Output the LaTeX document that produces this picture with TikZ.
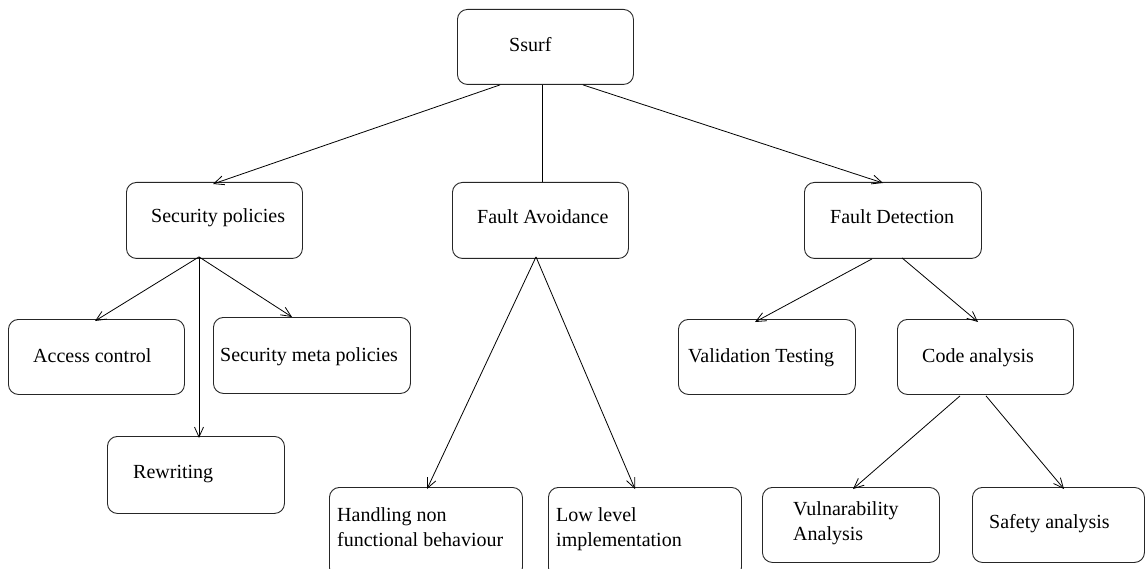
\documentclass[tikz,border=0pt]{standalone}
\usepackage{fontspec}
\setmainfont{Liberation Serif}
\usetikzlibrary{arrows.meta}
\begin{document}
\begin{tikzpicture}[x=1pt,y=-1pt,
  box/.style={draw=black!85, line width=0.9pt, rounded corners=10pt, anchor=north west, inner sep=0pt},
  lbl/.style={anchor=base west, inner sep=0pt, font=\fontsize{20}{25}\selectfont, align=left},
  arr/.style={draw, line width=0.8pt, -{Straight Barb[length=10pt,width=9pt,line width=0.8pt]}},
  ln/.style={draw, line width=0.8pt}]
\useasboundingbox (0,0) rectangle (1145,569);
% boxes
\node[box, minimum width=176pt, minimum height=75pt] (ssurf) at (457,9) {};
\node[box, minimum width=176pt, minimum height=76pt] (sp) at (126,182) {};
\node[box, minimum width=176pt, minimum height=76pt] (fa) at (452,182) {};
\node[box, minimum width=177pt, minimum height=76pt] (fd) at (804,182) {};
\node[box, minimum width=176pt, minimum height=75pt] (ac) at (8,319) {};
\node[box, minimum width=197pt, minimum height=76pt] (smp) at (213,317) {};
\node[box, minimum width=177pt, minimum height=77pt] (rw) at (107,436) {};
\node[box, minimum width=177pt, minimum height=75pt] (vt) at (678,319) {};
\node[box, minimum width=176pt, minimum height=75pt] (ca) at (897,319) {};
\node[box, minimum width=193pt, minimum height=90pt] (hn) at (329,487) {};
\node[box, minimum width=193pt, minimum height=90pt] (ll) at (548,487) {};
\node[box, minimum width=177pt, minimum height=75pt] (va) at (762,487) {};
\node[box, minimum width=172pt, minimum height=75pt] (sa) at (972,487) {};
% labels
\node[lbl] (ssurf-t) at (509,52) {Ssurf};
\node[lbl] (sp-t) at (151,223) {Security policies};
\node[lbl] (fa-t) at (477,224) {Fault Avoidance};
\node[lbl] (fd-t) at (830,224) {Fault Detection};
\node[lbl] (ac-t) at (33,362) {Access control};
\node[lbl] (smp-t) at (220,361) {Security meta policies};
\node[lbl] (rw-t) at (133,478) {Rewriting};
\node[lbl] (vt-t) at (688,362) {Validation Testing};
\node[lbl] (ca-t) at (922,362) {Code analysis};
\node[lbl] (hn-t) at (337,546) {Handling non\\functional behaviour};
\node[lbl] (ll-t) at (556,546) {Low level\\implementation};
\node[lbl] (va-t) at (793,540) {Vulnarability\\Analysis};
\node[lbl] (sa-t) at (989,528) {Safety analysis};
% connectors
\draw[arr] ([xshift=43pt]ssurf.south west) -- ([xshift=87pt,yshift=-2pt]sp.north west);
\draw[ln] ([xshift=85pt]ssurf.south west) -- ([xshift=90pt]fa.north west);
\draw[arr] ([xshift=126pt]ssurf.south west) -- ([xshift=79pt,yshift=-1pt]fd.north west);
\draw[arr] ([xshift=73pt,yshift=2pt]sp.south west) -- ([xshift=87pt,yshift=-2pt]ac.north west);
\draw[arr] ([xshift=73pt,yshift=2pt]sp.south west) -- ([xshift=92pt,yshift=-2pt]rw.north west);
\draw[arr] ([xshift=73pt,yshift=2pt]sp.south west) -- ([xshift=79pt]smp.north west);
\draw[arr] ([xshift=84pt,yshift=2pt]fa.south west) -- ([xshift=98pt,yshift=-2pt]hn.north west);
\draw[arr] ([xshift=84pt,yshift=2pt]fa.south west) -- ([xshift=87pt,yshift=-2pt]ll.north west);
\draw[arr] ([xshift=68pt]fd.south west) -- ([xshift=77pt,yshift=-3pt]vt.north west);
\draw[arr] ([xshift=98pt,yshift=1pt]fd.south west) -- ([xshift=81pt,yshift=-3pt]ca.north west);
\draw[arr] ([xshift=63pt,yshift=-1pt]ca.south west) -- ([xshift=91pt,yshift=-2pt]va.north west);
\draw[arr] ([xshift=89pt,yshift=-1pt]ca.south west) -- ([xshift=92pt,yshift=-2pt]sa.north west);
\end{tikzpicture}
\end{document}
